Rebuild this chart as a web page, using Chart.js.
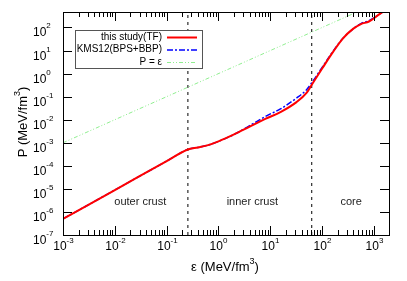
<!DOCTYPE html>
<html>
<head>
<meta charset="utf-8">
<script src="https://cdn.jsdelivr.net/npm/chart.js@4.4.1/dist/chart.umd.min.js"></script>
<style>
  body { margin: 0; background: #fff; }
  canvas { display: block; }
</style>
</head>
<body>
<canvas id="eosChart" width="407" height="281"></canvas>
<script>
// energy density (MeV/fm^3)
const eps = [0.001, 0.01, 0.1, 0.25, 0.4, 0.63, 1, 2, 4, 8, 16, 32, 50, 63, 100, 160, 250, 400, 560, 800, 1260, 2000];
// pressure, this study (TF)
const pTF = [5.0e-7, 8.9e-6, 1.6e-4, 5.0e-4, 6.3e-4, 7.9e-4, 1.15e-3, 2.3e-3, 5.0e-3, 1.08e-2, 2.2e-2, 5.8e-2, 0.145, 0.33, 1.66, 8.3, 33, 89, 141, 182, 372, 760];
// pressure, KMS12 (BPS+BBP)
const pKMS = [5.0e-7, 8.9e-6, 1.6e-4, 5.0e-4, 6.3e-4, 7.9e-4, 1.15e-3, 2.3e-3, 5.5e-3, 1.38e-2, 3.0e-2, 8.7e-2, 0.20, 0.40, 1.86, 8.9, 33, 89, 148, 200, 372, 760];
// P = eps reference line
const diagEps = [0.001, 2000];
// crust / core boundaries
const boundaries = [0.257, 63];
const regionNames = ['outer crust', 'inner crust', 'core'];
const regionEps = [0.031, 4.5, 363];
const regionP = 2.7e-6;

const xMin = 0.001, xMax = 1950, yMin = 1e-7, yMax = 470;
const FONT = '"Liberation Sans", Arial, sans-serif';

function pts(xs, ys) {
    return xs.map((x, i) => ({ x: x, y: ys[i] }));
}

let datasets = [
    { label: 'this study(TF)', data: pts(eps, pTF), borderColor: '#ff0000', borderWidth: 2, cubicInterpolationMode: 'monotone', order: 1 },
    { label: 'KMS12(BPS+BBP)', data: pts(eps, pKMS), borderColor: '#0000ff', borderWidth: 1.5, borderDash: [6, 2, 2, 2], cubicInterpolationMode: 'monotone', order: 2 },
    { label: 'P = \u03b5', data: pts(diagEps, diagEps), borderColor: '#90ee90', borderWidth: 1, borderDash: [4, 2, 1, 2, 1, 2], order: 3 }
];
boundaries.forEach(b => {
    datasets.push({ label: '', data: [{ x: b, y: yMin }, { x: b, y: yMax }], borderColor: '#000', borderWidth: 1, borderDash: [3, 4], order: 4 });
});
datasets.forEach(d => { d.showLine = true; d.pointRadius = 0; d.fill = false; });

function drawPow(ctx, x, y, exp, mode) {
    // mode 'x': centred under x, 'y': left edge at x
    ctx.font = '12px ' + FONT;
    let w1 = ctx.measureText('10').width;
    ctx.font = '8px ' + FONT;
    let w2 = ctx.measureText(exp).width;
    let left = mode === 'x' ? x - (w1 + w2) / 2 : x;
    ctx.textAlign = 'left';
    ctx.textBaseline = 'alphabetic';
    ctx.font = '12px ' + FONT;
    ctx.fillText('10', left, y);
    ctx.font = '8px ' + FONT;
    ctx.fillText(exp, left + w1, y - 7.5);
}

const framePlugin = {
    id: 'frame',
    afterDraw(chart) {
        const ctx = chart.ctx;
        const a = chart.chartArea;
        const xs = chart.scales.x, ys = chart.scales.y;
        ctx.save();
        ctx.strokeStyle = '#000';
        ctx.fillStyle = '#000';
        ctx.lineWidth = 1;
        ctx.strokeRect(Math.round(a.left) + 0.5, Math.round(a.top) + 0.5, Math.round(a.right - a.left), Math.round(a.bottom - a.top));

        // x ticks (major + minor), bottom and top
        for (let e = -3; e <= 3; e++) {
            for (let m = 1; m <= 9; m++) {
                let v = m * Math.pow(10, e);
                if (v < xMin || v > xMax) continue;
                let px = Math.round(xs.getPixelForValue(v)) + 0.5;
                let len = m === 1 ? 9 : 5;
                ctx.beginPath();
                ctx.moveTo(px, a.bottom); ctx.lineTo(px, a.bottom - len);
                ctx.moveTo(px, a.top); ctx.lineTo(px, a.top + len);
                ctx.stroke();
                if (m === 1) drawPow(ctx, px, a.bottom + 15, String(e), 'x');
            }
        }
        // y ticks, left and right
        for (let e = -7; e <= 2; e++) {
            let py = Math.round(ys.getPixelForValue(Math.pow(10, e))) + 0.5;
            ctx.beginPath();
            ctx.moveTo(a.left, py); ctx.lineTo(a.left + 9, py);
            ctx.moveTo(a.right, py); ctx.lineTo(a.right - 9, py);
            ctx.stroke();
            drawPow(ctx, 33, py + 8, String(e), 'y');
        }

        // axis titles
        ctx.font = '13px ' + FONT;
        ctx.textBaseline = 'alphabetic';
        ctx.textAlign = 'left';
        let t1 = '\u03b5 (MeV/fm', t2 = ')';
        let w1 = ctx.measureText(t1).width, w3 = ctx.measureText(t2).width;
        ctx.font = '9px ' + FONT;
        let w2 = ctx.measureText('3').width;
        let sx = 225 - (w1 + w2 + w3) / 2;
        ctx.font = '13px ' + FONT;
        ctx.fillText(t1, sx, 271);
        ctx.fillText(t2, sx + w1 + w2, 271);
        ctx.font = '9px ' + FONT;
        ctx.fillText('3', sx + w1, 264);

        ctx.save();
        ctx.translate(22, 122);
        ctx.rotate(-Math.PI / 2);
        ctx.font = '13px ' + FONT;
        t1 = 'P (MeV/fm';
        w1 = ctx.measureText(t1).width;
        sx = -(w1 + w2 + w3) / 2;
        ctx.fillText(t1, sx, 5);
        ctx.fillText(t2, sx + w1 + w2, 5);
        ctx.font = '9px ' + FONT;
        ctx.fillText('3', sx + w1, -2);
        ctx.restore();

        // region labels
        ctx.font = '11px ' + FONT;
        ctx.fillStyle = '#222';
        ctx.textAlign = 'center';
        ctx.textBaseline = 'middle';
        regionNames.forEach((n, i) => {
            ctx.fillText(n, xs.getPixelForValue(regionEps[i]), ys.getPixelForValue(regionP));
        });

        // legend box
        ctx.fillStyle = '#fff';
        ctx.fillRect(75, 30, 127, 38);
        ctx.strokeStyle = '#555';
        ctx.strokeRect(75.5, 30.5, 127, 38);
        ctx.font = '10px ' + FONT;
        ctx.textAlign = 'right';
        ctx.fillStyle = '#000';
        [0, 1, 2].forEach(i => {
            const d = chart.data.datasets[i];
            const ry = 37 + i * 12.5;
            ctx.fillText(d.label, 162, ry);
            ctx.strokeStyle = d.borderColor;
            ctx.lineWidth = d.borderWidth;
            ctx.setLineDash(d.borderDash || []);
            ctx.beginPath();
            ctx.moveTo(167, ry + 0.5); ctx.lineTo(197, ry + 0.5);
            ctx.stroke();
            ctx.setLineDash([]);
        });
        ctx.restore();
    }
};

new Chart(document.getElementById('eosChart'), {
    type: 'scatter',
    data: { datasets: datasets },
    options: {
        responsive: false,
        animation: false,
        layout: { padding: { left: 63, right: 18, top: 12, bottom: 46 } },
        plugins: { legend: { display: false }, tooltip: { enabled: false } },
        scales: {
            x: { type: 'logarithmic', min: xMin, max: xMax, display: false },
            y: { type: 'logarithmic', min: yMin, max: yMax, display: false }
        }
    },
    plugins: [framePlugin]
});
</script>
</body>
</html>
